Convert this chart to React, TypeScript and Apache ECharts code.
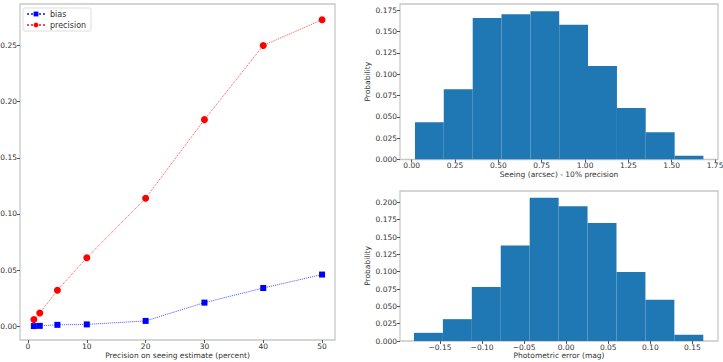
import React, { useEffect, useRef } from "react";
import * as echarts from "echarts";

// Left panel: bias / precision vs precision on seeing estimate
const precisionPercent = [1, 2, 5, 10, 20, 30, 40, 50];
const biasValues = [0.0001, 0.0003, 0.0012, 0.0016, 0.0047, 0.021, 0.034, 0.046];
const precisionValues = [0.006, 0.0117, 0.032, 0.061, 0.114, 0.184, 0.25, 0.273];
const leftXTicks = [0, 10, 20, 30, 40, 50];
const leftYTicks = [0, 0.05, 0.1, 0.15, 0.2, 0.25];

// Top-right histogram: seeing (arcsec), 10% precision
const seeingEdges = [0.019, 0.185, 0.352, 0.518, 0.685, 0.851, 1.017, 1.184, 1.35, 1.517, 1.683];
const seeingProb = [0.0438, 0.0823, 0.1659, 0.1703, 0.1738, 0.158, 0.1098, 0.0603, 0.032, 0.0045];
const seeingXTicks = [0, 0.25, 0.5, 0.75, 1.0, 1.25, 1.5, 1.75];
const seeingYTicks = [0, 0.025, 0.05, 0.075, 0.1, 0.125, 0.15, 0.175];

// Bottom-right histogram: photometric error (mag)
const photEdges = [-0.181, -0.1466, -0.1122, -0.0778, -0.0434, -0.009, 0.0254, 0.0598, 0.0942, 0.1286, 0.163];
const photProb = [0.0118, 0.0315, 0.0779, 0.1378, 0.2066, 0.1945, 0.1701, 0.0994, 0.0596, 0.009];
const photXTicks = [-0.15, -0.1, -0.05, 0, 0.05, 0.1, 0.15];
const photYTicks = [0, 0.025, 0.05, 0.075, 0.1, 0.125, 0.15, 0.175, 0.2];

const FONT = "DejaVu Sans";
const TEXT = "#333333";
const FRAME = "#c8c8c8";
const BAR = "#1f77b4";

const minusFmt = (d: number) => (v: number) => v.toFixed(d).replace("-", "\u2212");

function valueAxis(
  gridIndex: number,
  min: number,
  max: number,
  ticks: number[],
  decimals: number,
  margin: number,
  extra: any = {}
) {
  return {
    type: "value",
    gridIndex,
    min,
    max,
    splitLine: { show: false },
    axisLine: { show: false, onZero: false },
    axisTick: {
      show: true,
      inside: false,
      length: 3,
      lineStyle: { color: "#555", width: 1 },
      customValues: ticks,
    },
    axisLabel: {
      customValues: ticks,
      formatter: minusFmt(decimals),
      fontFamily: FONT,
      fontSize: 7.5,
      color: TEXT,
      margin,
    },
    nameTextStyle: { fontFamily: FONT, fontSize: 7.5, color: TEXT },
    ...extra,
  };
}

function histSeries(edges: number[], probs: number[], idx: number) {
  return {
    type: "custom",
    xAxisIndex: idx,
    yAxisIndex: idx,
    clip: true,
    encode: { x: [0, 1], y: 2 },
    data: probs.map((p, i) => [edges[i], edges[i + 1], p]),
    renderItem: (_params: any, api: any) => {
      const x0 = api.value(0);
      const x1 = api.value(1);
      const h = api.value(2);
      const a = api.coord([x0, h]);
      const b = api.coord([x1, 0]);
      return {
        type: "rect",
        shape: { x: a[0], y: a[1], width: b[0] - a[0], height: b[1] - a[1] },
        style: { fill: BAR },
      };
    },
  };
}

export default function App() {
  const ref = useRef<HTMLDivElement>(null);
  useEffect(() => {
    if (!ref.current) return;
    const chart = echarts.init(ref.current, undefined, { renderer: "svg" });
    const gridCommon = {
      show: true,
      borderColor: FRAME,
      borderWidth: 1.3,
      backgroundColor: "#ffffff",
      containLabel: false,
      outerBoundsMode: "none",
    };
    chart.setOption({
      animation: false,
      backgroundColor: "#ffffff",
      grid: [
        { ...gridCommon, left: 20, top: 4, width: 315, height: 336 },
        { ...gridCommon, left: 400, top: 4, width: 318, height: 155.5 },
        { ...gridCommon, left: 400, top: 191, width: 318, height: 150 },
      ],
      xAxis: [
        valueAxis(0, -1.36, 52.2, leftXTicks, 0, 2, {
          name: "Precision on seeing estimate (percent)",
          nameLocation: "middle",
          nameGap: 11,
          nameMoveOverlap: false,
        }),
        valueAxis(1, -0.0675, 1.767, seeingXTicks, 2, 2, {
          name: "Seeing (arcsec) - 10% precision",
          nameLocation: "middle",
          nameGap: 4,
        }),
        valueAxis(2, -0.1976, 0.1805, photXTicks, 2, 2, {
          name: "Photometric error (mag)",
          nameLocation: "middle",
          nameGap: 2,
        }),
      ],
      yAxis: [
        valueAxis(0, -0.0123, 0.287, leftYTicks, 2, 3),
        valueAxis(1, 0, 0.1824, seeingYTicks, 3, 3, {
          name: "Probability",
          nameLocation: "middle",
          nameGap: 26,
        }),
        valueAxis(2, 0, 0.2164, photYTicks, 3, 3, {
          name: "Probability",
          nameLocation: "middle",
          nameGap: 26,
        }),
      ],
      legend: {
        show: true,
        orient: "vertical",
        left: 23,
        top: 8,
        backgroundColor: "#ffffff",
        borderColor: "#dddddd",
        borderWidth: 1,
        borderRadius: 2,
        padding: [2, 5, 2, 3],
        itemGap: 3,
        itemWidth: 18,
        itemHeight: 6,
        textStyle: { fontFamily: FONT, fontSize: 8, color: TEXT },
        data: ["bias", "precision"],
      },
      series: [
        {
          name: "bias",
          type: "line",
          xAxisIndex: 0,
          yAxisIndex: 0,
          data: precisionPercent.map((x, i) => [x, biasValues[i]]),
          symbol: "rect",
          symbolSize: 6,
          itemStyle: { color: "#0000ff" },
          lineStyle: { color: "#0000ff", width: 1, type: "dotted", opacity: 0.7 },
          z: 3,
        },
        {
          name: "precision",
          type: "line",
          xAxisIndex: 0,
          yAxisIndex: 0,
          data: precisionPercent.map((x, i) => [x, precisionValues[i]]),
          symbol: "circle",
          symbolSize: 7,
          itemStyle: { color: "#ff0000" },
          lineStyle: { color: "#ff0000", width: 1, type: "dotted", opacity: 0.7 },
          z: 3,
        },
        histSeries(seeingEdges, seeingProb, 1),
        histSeries(photEdges, photProb, 2),
      ],
    });
    return () => chart.dispose();
  }, []);
  return (
    <div
      ref={ref}
      style={{ position: "fixed", left: 0, top: 0, width: 723, height: 362 }}
    />
  );
}
